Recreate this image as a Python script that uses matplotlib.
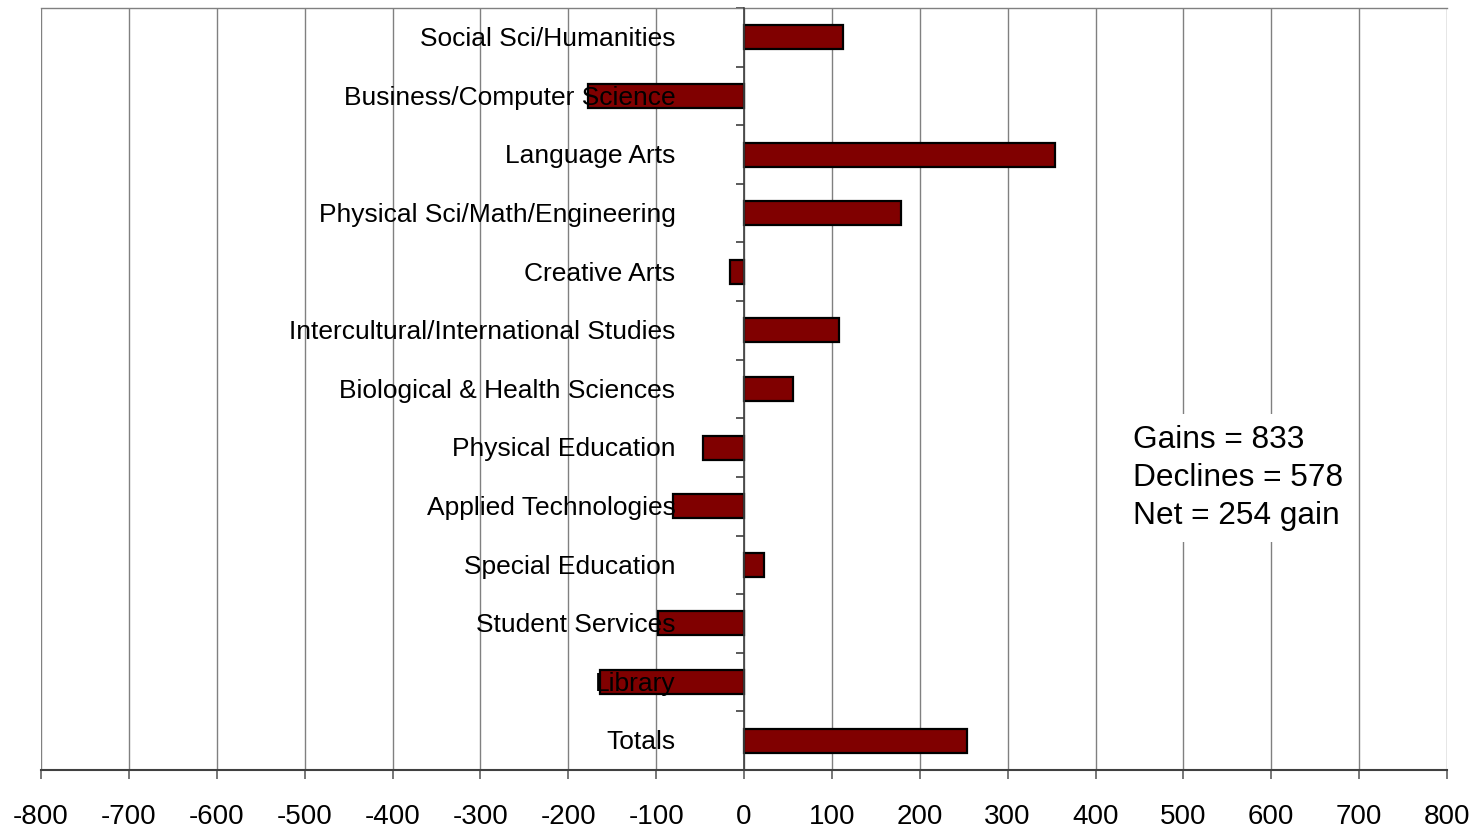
import numpy as np
import matplotlib
matplotlib.use('Agg')
import matplotlib.pyplot as plt

plt.rcParams['font.family'] = ['Liberation Sans', 'DejaVu Sans']

categories = [
    'Social Sci/Humanities',
    'Business/Computer Science',
    'Language Arts',
    'Physical Sci/Math/Engineering',
    'Creative Arts',
    'Intercultural/International Studies',
    'Biological & Health Sciences',
    'Physical Education',
    'Applied Technologies',
    'Special Education',
    'Student Services',
    'Library',
    'Totals',
]
changes = [113, -177, 354, 179, -16, 108, 56, -47, -81, 23, -98, -164, 254]
x_ticks = list(range(-800, 801, 100))
summary = 'Gains = 833\nDeclines = 578\nNet = 254 gain'

fig = plt.figure(figsize=(14.78, 8.32), dpi=100)
ax = fig.add_axes([41/1478, 1 - 770/832, 1406/1478, 762/832])

y = np.arange(len(categories))
ax.barh(y, changes, height=0.41, color='#800000', edgecolor='black', linewidth=1.6, zorder=3)

ax.set_xlim(-800, 800)
ax.set_ylim(len(categories) - 0.5, -0.5)
ax.set_xticks(x_ticks)
ax.set_xticklabels([str(t) for t in x_ticks], fontsize=20)
ax.xaxis.grid(True, color='#808080', linewidth=1, zorder=0)

# y axis sits on the zero line, boundary ticks as minor ticks
ax.spines['left'].set_position(('data', 0))
ax.spines['left'].set_color('#404040')
ax.spines['left'].set_linewidth(1.2)
ax.spines['left'].set_zorder(4)
ax.spines['right'].set_visible(False)
ax.spines['top'].set_color('#808080')
ax.spines['top'].set_linewidth(1)
ax.spines['bottom'].set_color('#404040')
ax.spines['bottom'].set_linewidth(1.5)

ax.set_yticks(y)
ax.set_yticklabels([])
ax.set_yticks(np.arange(-0.5, len(categories)), minor=True)
ax.tick_params(axis='y', which='major', length=0)
ax.tick_params(axis='y', which='minor', length=6, width=1.2, color='#404040')
ax.tick_params(axis='x', length=6.5, width=1.2, color='#606060', pad=18)

# category labels drawn over the bars, like the original
for yi, name in zip(y, categories):
    ax.text(-78, yi + 0.03, name, ha='right', va='center', fontsize=19, zorder=6)

ax.text(0.7767, 0.383, summary, transform=ax.transAxes, ha='left', va='center',
        fontsize=22.8, linespacing=1.34, zorder=6,
        bbox=dict(facecolor='white', edgecolor='none', pad=8))

fig.savefig('out.png', dpi=100)
